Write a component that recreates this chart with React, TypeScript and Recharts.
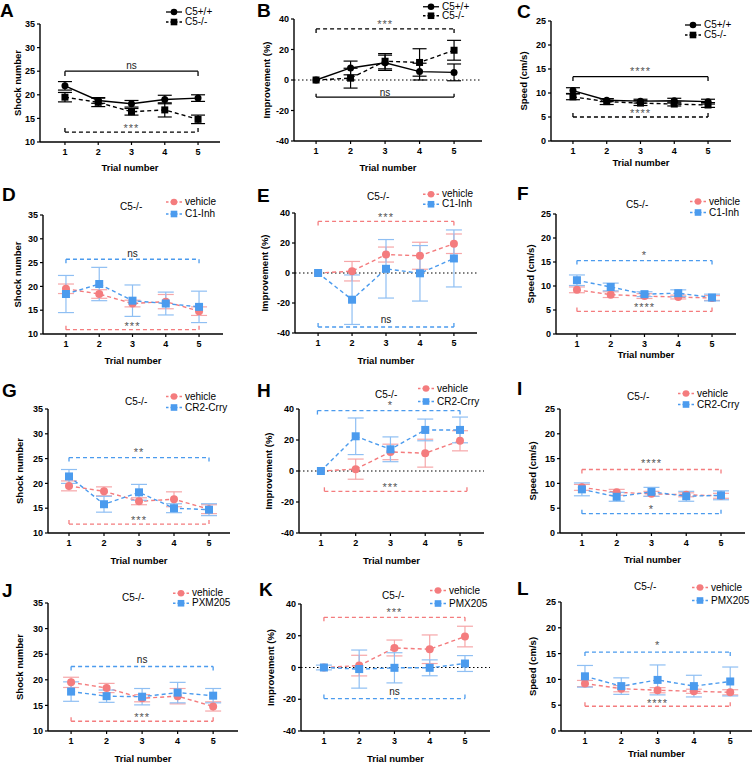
import React from "react";
import { LineChart, Line, XAxis, YAxis, ErrorBar, ReferenceLine, ReferenceDot, Legend } from "recharts";

const trials = [1, 2, 3, 4, 5];

// shock number
const shockWT = [21.9, 18.8, 18.1, 19.0, 19.3];
const shockWTErr = [0.9, 0.6, 0.7, 0.9, 0.7];
const shockKO = [19.5, 18.4, 16.4, 16.8, 14.8];
const shockKOErr = [1.0, 0.9, 0.7, 1.5, 0.9];
const shockC1Inh = [18.4, 20.5, 17.0, 16.4, 15.7];
const shockC1InhErr = [3.9, 3.5, 3.3, 2.4, 3.3];
const shockCrry = [21.4, 15.8, 18.2, 15.0, 14.7];
const shockCrryErr = [1.4, 1.6, 1.6, 0.9, 1.2];
const shockPmx = [17.7, 16.8, 16.7, 17.5, 16.9];
const shockPmxErr = [1.9, 1.2, 1.6, 2.0, 1.4];

// improvement (%)
const impWT = [0, 7.9, 11.3, 5.5, 5.0];
const impWTErr = [0, 4.5, 5.0, 5.5, 5.5];
const impKO = [0, 1.2, 12.3, 11.5, 19.5];
const impKOErr = [0, 6.5, 5.0, 9.0, 6.5];
const impC1Inh = [0, -17.8, 2.8, -0.2, 9.7];
const impC1InhErr = [0, 16.5, 19.5, 18.5, 19.0];
const impCrry = [0, 22.4, 14.0, 26.5, 26.5];
const impCrryErr = [0, 11.8, 8.0, 7.0, 8.3];
const impPmx = [0, -1.0, -0.2, -0.2, 2.5];
const impPmxErr = [1.5, 12.0, 9.5, 5.0, 5.0];

// speed (cm/s)
const speedWT = [10.5, 8.5, 8.3, 8.4, 8.2];
const speedWTErr = [0.6, 0.3, 0.4, 0.5, 0.5];
const speedKO = [9.2, 8.2, 7.9, 7.7, 7.5];
const speedKOErr = [0.6, 0.6, 0.5, 0.4, 0.5];
const speedC1Inh = [11.2, 9.8, 8.3, 8.5, 7.6];
const speedC1InhErr = [1.1, 0.8, 0.5, 0.7, 0.7];
const speedCrry = [8.8, 7.3, 8.3, 7.4, 7.6];
const speedCrryErr = [1.3, 0.9, 0.9, 1.0, 0.9];
const speedPmx = [10.6, 8.7, 9.9, 8.7, 9.6];
const speedPmxErr = [2.1, 1.6, 2.9, 2.1, 2.8];

const FONT = "'Liberation Sans', Arial, Helvetica, sans-serif";
const BLACK = "#000000";
const PINK = "#F47C7E";
const PINK_ERR = "#F6A6A8";
const BLUE = "#4B9BEE";
const BLUE_ERR = "#8FBFF3";
const STAR = "#555555";
const NS = "#222222";

type Series = {
  name: string;
  values: number[];
  errors: number[];
  color: string;
  errColor: string;
  shape: "circle" | "square";
  dash?: string;
  size: number;
};

type Bracket = {
  y: number;
  tip: number;
  color: string;
  dash?: string;
  text: string;
  textY: number;
  textColor: string;
  from?: number;
  to?: number;
};

type PanelCfg = {
  letter: string;
  letterAt: [number, number];
  cell: [number, number];
  plot: [number, number, number, number];
  titleY: number;
  yLabel: string;
  yLabelX: number;
  yDomain: [number, number];
  yTicks: number[];
  xDomain: [number, number];
  series: Series[];
  brackets: Bracket[];
  zero?: boolean;
  subtitle?: [number, number];
  legend: { x: number; y: number; gap: number };
};

const wt = (values: number[], errors: number[]): Series => ({
  name: "C5+/+", values, errors, color: BLACK, errColor: BLACK, shape: "circle", size: 7,
});
const ko = (values: number[], errors: number[]): Series => ({
  name: "C5-/-", values, errors, color: BLACK, errColor: BLACK, shape: "square", dash: "4 3", size: 7,
});
const vehicle = (values: number[], errors: number[]): Series => ({
  name: "vehicle", values, errors, color: PINK, errColor: PINK_ERR, shape: "circle", dash: "4 3", size: 8,
});
const treated = (name: string, values: number[], errors: number[]): Series => ({
  name, values, errors, color: BLUE, errColor: BLUE_ERR, shape: "square", dash: "4 3", size: 8,
});

const SHOCK = { yLabel: "Shock number", yDomain: [10, 35] as [number, number], yTicks: [10, 15, 20, 25, 30, 35] };
const IMPROVE = { yLabel: "Improvement (%)", yDomain: [-40, 40] as [number, number], yTicks: [-40, -20, 0, 20, 40], zero: true };
const SPEED = { yLabel: "Speed (cm/s)", yDomain: [0, 25] as [number, number], yTicks: [0, 5, 10, 15, 20, 25] };

const panels: PanelCfg[] = [
  {
    letter: "A", letterAt: [0, 17], cell: [0, 0], plot: [40, 24, 220, 142], titleY: 167, yLabelX: 18,
    xDomain: [0.25, 5.66], ...SHOCK,
    series: [wt(shockWT, shockWTErr), ko(shockKO, shockKOErr)],
    brackets: [
      { y: 25, tip: 24, color: BLACK, text: "ns", textY: 26.3, textColor: NS },
      { y: 12.1, tip: 13.4, color: BLACK, dash: "4 3", text: "***", textY: 13.0, textColor: STAR },
    ],
    legend: { x: 165, y: 12, gap: 10 },
  },
  {
    letter: "B", letterAt: [257, 17], cell: [252, 0], plot: [294, 19, 482, 141], titleY: 167, yLabelX: 267,
    xDomain: [0.36, 5.81], ...IMPROVE,
    series: [wt(impWT, impWTErr), ko(impKO, impKOErr)],
    brackets: [
      { y: 33.5, tip: 30.5, color: BLACK, dash: "4 3", text: "***", textY: 36.5, textColor: STAR },
      { y: -11.2, tip: -9, color: BLACK, text: "ns", textY: -8, textColor: NS },
    ],
    legend: { x: 422, y: 6.5, gap: 9.5 },
  },
  {
    letter: "C", letterAt: [517, 18], cell: [504, 0], plot: [551, 21, 731, 141], titleY: 162, yLabelX: 524,
    xDomain: [0.35, 5.68], ...SPEED,
    series: [wt(speedWT, speedWTErr), ko(speedKO, speedKOErr)],
    brackets: [
      { y: 13.4, tip: 12.5, color: BLACK, text: "****", textY: 14.6, textColor: STAR },
      { y: 5.0, tip: 6.2, color: BLACK, dash: "4 3", text: "****", textY: 5.9, textColor: STAR },
    ],
    legend: { x: 684, y: 25, gap: 10 },
  },
  {
    letter: "D", letterAt: [2, 201], cell: [0, 190], plot: [43, 215, 223, 334], titleY: 360, yLabelX: 18,
    xDomain: [0.31, 5.72], ...SHOCK,
    series: [vehicle(shockKO, shockKOErr), treated("C1-Inh", shockC1Inh, shockC1InhErr)],
    brackets: [
      { y: 25.7, tip: 24.7, color: BLUE, dash: "4 3", text: "ns", textY: 26.9, textColor: NS },
      { y: 10.9, tip: 11.8, color: PINK, dash: "4 3", text: "***", textY: 11.6, textColor: STAR },
    ],
    subtitle: [120, 207],
    legend: { x: 165, y: 202, gap: 12 },
  },
  {
    letter: "E", letterAt: [257, 202], cell: [252, 190], plot: [295, 213, 477, 333], titleY: 360, yLabelX: 265,
    xDomain: [0.32, 5.68], ...IMPROVE,
    series: [vehicle(impKO, impKOErr), treated("C1-Inh", impC1Inh, impC1InhErr)],
    brackets: [
      { y: 34.4, tip: 31, color: PINK, dash: "4 3", text: "***", textY: 37.5, textColor: STAR },
      { y: -36, tip: -32.7, color: BLUE, dash: "4 3", text: "ns", textY: -31, textColor: NS },
    ],
    subtitle: [367, 197],
    legend: { x: 422, y: 194, gap: 10.5 },
  },
  {
    letter: "F", letterAt: [517, 200], cell: [504, 190], plot: [556, 214, 736, 334], titleY: 354, yLabelX: 531,
    xDomain: [0.38, 5.71], ...SPEED,
    series: [vehicle(speedKO, speedKOErr), treated("C1-Inh", speedC1Inh, speedC1InhErr)],
    brackets: [
      { y: 15.3, tip: 14.2, color: BLUE, dash: "4 3", text: "*", textY: 16.4, textColor: STAR },
      { y: 4.7, tip: 5.9, color: PINK, dash: "4 3", text: "****", textY: 5.6, textColor: STAR },
    ],
    subtitle: [626, 205],
    legend: { x: 689, y: 201, gap: 11 },
  },
  {
    letter: "G", letterAt: [2, 397], cell: [0, 380], plot: [48, 409, 230, 533], titleY: 560, yLabelX: 20,
    xDomain: [0.4, 5.6], ...SHOCK,
    series: [vehicle(shockKO, shockKOErr), treated("CR2-Crry", shockCrry, shockCrryErr)],
    brackets: [
      { y: 25.2, tip: 24.2, color: BLUE, dash: "4 3", text: "**", textY: 26.3, textColor: STAR },
      { y: 11.8, tip: 12.9, color: PINK, dash: "4 3", text: "***", textY: 12.7, textColor: STAR },
    ],
    subtitle: [125, 402],
    legend: { x: 165, y: 396, gap: 11 },
  },
  {
    letter: "H", letterAt: [257, 397], cell: [252, 380], plot: [299, 409, 484, 533], titleY: 560, yLabelX: 269,
    xDomain: [0.37, 5.69], ...IMPROVE,
    series: [vehicle(impKO, impKOErr), treated("CR2-Crry", impCrry, impCrryErr)],
    brackets: [
      { y: 39, tip: 36.3, color: BLUE, dash: "4 3", text: "*", textY: 42.3, textColor: STAR, from: 0.9 },
      { y: -13.1, tip: -10, color: PINK, dash: "4 3", text: "***", textY: -10.5, textColor: STAR, from: 1.1, to: 5.2 },
    ],
    subtitle: [375, 395],
    legend: { x: 417, y: 388, gap: 13 },
  },
  {
    letter: "I", letterAt: [517, 395], cell: [504, 380], plot: [560, 409, 745, 533], titleY: 559, yLabelX: 533,
    xDomain: [0.37, 5.69], ...SPEED,
    series: [vehicle(speedKO, speedKOErr), treated("CR2-Crry", speedCrry, speedCrryErr)],
    brackets: [
      { y: 12.8, tip: 11.7, color: PINK, dash: "4 3", text: "****", textY: 14.0, textColor: STAR },
      { y: 3.9, tip: 5.1, color: BLUE, dash: "4 3", text: "*", textY: 4.9, textColor: STAR },
    ],
    subtitle: [627, 397],
    legend: { x: 677, y: 393, gap: 11 },
  },
  {
    letter: "J", letterAt: [2, 597], cell: [0, 570], plot: [48, 603, 238, 731], titleY: 758, yLabelX: 20,
    xDomain: [0.35, 5.7], ...SHOCK,
    series: [vehicle(shockKO, shockKOErr), treated("PXM205", shockPmx, shockPmxErr)],
    brackets: [
      { y: 22.6, tip: 21.6, color: BLUE, dash: "4 3", text: "ns", textY: 24.0, textColor: NS },
      { y: 11.9, tip: 13.1, color: PINK, dash: "4 3", text: "***", textY: 12.8, textColor: STAR },
    ],
    subtitle: [122, 598],
    legend: { x: 172, y: 593, gap: 10.5 },
  },
  {
    letter: "K", letterAt: [259, 596], cell: [252, 570], plot: [301, 604, 490, 731], titleY: 758, yLabelX: 271,
    xDomain: [0.35, 5.71], ...IMPROVE,
    series: [vehicle(impKO, impKOErr), treated("PMX205", impPmx, impPmxErr)],
    brackets: [
      { y: 31.6, tip: 28.2, color: PINK, dash: "4 3", text: "***", textY: 34.8, textColor: STAR },
      { y: -19.6, tip: -16.4, color: BLUE, dash: "4 3", text: "ns", textY: -15.4, textColor: NS },
    ],
    subtitle: [382, 596],
    legend: { x: 429, y: 590, gap: 13 },
  },
  {
    letter: "L", letterAt: [517, 595], cell: [504, 570], plot: [561, 602, 752, 731], titleY: 753, yLabelX: 533,
    xDomain: [0.34, 5.6], ...SPEED,
    series: [vehicle(speedKO, speedKOErr), treated("PMX205", speedPmx, speedPmxErr)],
    brackets: [
      { y: 15.3, tip: 14.3, color: BLUE, dash: "4 3", text: "*", textY: 16.6, textColor: STAR },
      { y: 4.8, tip: 6.0, color: PINK, dash: "4 3", text: "****", textY: 5.5, textColor: STAR },
    ],
    subtitle: [634, 587],
    legend: { x: 691, y: 587, gap: 13 },
  },
];

const makeDot = (s: Series) => (props: any) => {
  const { cx, cy, index } = props;
  if (cx == null || cy == null) return <g key={`d${index}`} />;
  if (s.shape === "circle") {
    return <circle key={`d${index}`} cx={cx} cy={cy} r={s.size / 2} fill={s.color} />;
  }
  return <rect key={`d${index}`} x={cx - s.size / 2} y={cy - s.size / 2} width={s.size} height={s.size} fill={s.color} />;
};

function LegendBox({ series, gap }: { series: Series[]; gap: number }) {
  return (
    <div style={{ fontFamily: FONT, fontSize: 10, color: "#000", whiteSpace: "nowrap" }}>
      {series.map((s) => (
        <div key={s.name} style={{ height: gap, display: "flex", alignItems: "center" }}>
          <svg width={18} height={gap} style={{ display: "block" }}>
            <line x1={1} x2={17} y1={gap / 2} y2={gap / 2} stroke={s.color} strokeWidth={1.3}
              strokeDasharray={s.dash ? "2.5 2" : undefined} />
            {s.shape === "circle" ? (
              <circle cx={9} cy={gap / 2} r={3.3} fill={s.color} />
            ) : (
              <rect x={5.7} y={gap / 2 - 3.3} width={6.6} height={6.6} fill={s.color} />
            )}
          </svg>
          <span style={{ marginLeft: 2, lineHeight: `${gap}px` }}>{s.name}</span>
        </div>
      ))}
    </div>
  );
}

function Panel({ cfg }: { cfg: PanelCfg }) {
  const [cx, cy] = cfg.cell;
  const [left, top, right, bottom] = cfg.plot;
  const W = 252;
  const xAxisH = Math.round(cfg.titleY + 3.5 - bottom);
  const H = bottom - cy + xAxisH + 4;
  const data = trials.map((t, i) => {
    const row: Record<string, number> = { trial: t };
    cfg.series.forEach((s, k) => {
      row[`v${k}`] = s.values[i];
      row[`e${k}`] = s.errors[i];
    });
    return row;
  });
  const tickStyle = { fill: "#000", fontSize: 9, fontWeight: 700, fontFamily: FONT };
  const titleStyle = { fill: "#000", fontSize: 9.5, fontWeight: 700, fontFamily: FONT, textAnchor: "middle" as const };
  const lg = cfg.legend;

  return (
    <div style={{ position: "absolute", left: cx, top: cy }}>
      <LineChart width={W} height={H} data={data}
        margin={{ top: top - cy, right: W - (right - cx), bottom: 4, left: 0 }}>
        <XAxis type="number" dataKey="trial" domain={cfg.xDomain} ticks={trials} allowDataOverflow
          height={xAxisH} tickSize={3} tickMargin={4}
          axisLine={{ stroke: "#000", strokeWidth: 1.4 }} tickLine={{ stroke: "#000", strokeWidth: 1.2 }}
          tick={tickStyle}
          label={{ value: "Trial number", position: "insideBottom", offset: 0, style: titleStyle }} />
        <YAxis type="number" domain={cfg.yDomain} ticks={cfg.yTicks} allowDataOverflow
          width={left - cx} tickSize={3} tickMargin={2}
          axisLine={{ stroke: "#000", strokeWidth: 1.4 }} tickLine={{ stroke: "#000", strokeWidth: 1.2 }}
          tick={tickStyle}
          label={{ value: cfg.yLabel, angle: -90, position: "insideLeft", offset: cfg.yLabelX - cx, style: titleStyle }} />
        {cfg.zero && (
          <ReferenceLine y={0} stroke="#000" strokeWidth={1.2} strokeDasharray="1.5 2.5" />
        )}
        {cfg.brackets.flatMap((b, j) => {
          const x0 = b.from ?? 1;
          const x1 = b.to ?? 5;
          const common = { stroke: b.color, strokeWidth: 1.3, strokeDasharray: b.dash, ifOverflow: "visible" as const };
          return [
            <ReferenceLine key={`bh${j}`} segment={[{ x: x0, y: b.y }, { x: x1, y: b.y }]} {...common} />,
            <ReferenceLine key={`bl${j}`} segment={[{ x: x0, y: b.y }, { x: x0, y: b.tip }]} {...common} />,
            <ReferenceLine key={`br${j}`} segment={[{ x: x1, y: b.y }, { x: x1, y: b.tip }]} {...common} />,
            <ReferenceDot key={`bt${j}`} x={3} y={b.textY} r={0} fill="none" stroke="none" ifOverflow="visible"
              label={{
                value: b.text, position: "center", fill: b.textColor,
                fontSize: b.text === "ns" ? 10 : 11, fontFamily: FONT,
                letterSpacing: b.text === "ns" ? 0 : 1,
              }} />,
          ];
        })}
        {cfg.series.map((s, k) => (
          <Line key={s.name} name={s.name} type="linear" dataKey={`v${k}`} stroke={s.color}
            strokeWidth={1.4} strokeDasharray={s.dash} dot={makeDot(s)} activeDot={false}
            isAnimationActive={false}>
            <ErrorBar dataKey={`e${k}`} width={s.size} stroke={s.errColor} strokeWidth={1.2}
              direction="y" isAnimationActive={false} />
          </Line>
        ))}
        <Legend layout="vertical" align="center" verticalAlign="middle"
          wrapperStyle={{ left: lg.x - cx, top: lg.y - lg.gap / 2 - cy, width: "auto", height: "auto", right: "auto", bottom: "auto" }}
          content={() => <LegendBox series={cfg.series} gap={lg.gap} />} />
      </LineChart>
      <div style={{
        position: "absolute", left: cfg.letterAt[0] - cx, top: cfg.letterAt[1] - 16 - cy,
        fontFamily: FONT, fontWeight: 700, fontSize: 19, lineHeight: "19px", color: "#000",
      }}>{cfg.letter}</div>
      {cfg.subtitle && (
        <div style={{
          position: "absolute", left: cfg.subtitle[0] - cx, top: cfg.subtitle[1] - 6 - cy,
          fontFamily: FONT, fontSize: 10, lineHeight: "12px", color: "#000", whiteSpace: "nowrap",
        }}>C5-/-</div>
      )}
    </div>
  );
}

export default function App() {
  return (
    <div style={{ position: "absolute", left: 0, top: 0, width: 756, height: 763, background: "#fff", overflow: "hidden" }}>
      {panels.map((p) => (
        <Panel key={p.letter} cfg={p} />
      ))}
    </div>
  );
}
